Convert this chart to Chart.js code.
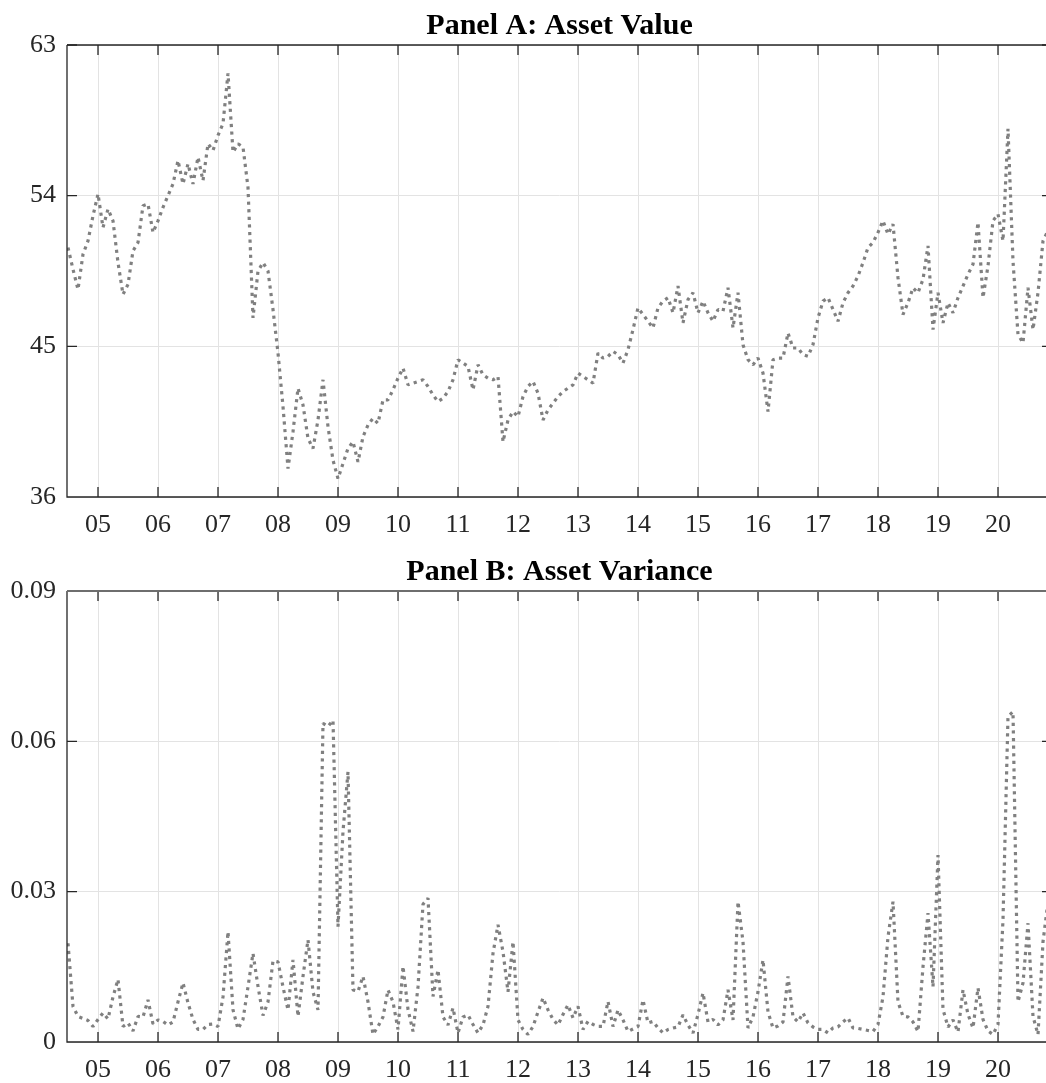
<!DOCTYPE html>
<html>
<head>
<meta charset="utf-8">
<title>Asset Value and Asset Variance</title>
<script src="https://cdn.jsdelivr.net/npm/chart.js@4.4.1/dist/chart.umd.min.js"></script>
<style>
  html, body { margin: 0; padding: 0; background: #fff; overflow: hidden; width: 1046px; height: 1083px; }
  canvas { position: absolute; left: 0; }
  #assetValueChart { top: 0; }
  #assetVarianceChart { top: 545px; }
</style>
</head>
<body>
<canvas id="assetValueChart" width="1052" height="545"></canvas>
<canvas id="assetVarianceChart" width="1052" height="538"></canvas>
<script>
// monthly observations, first one July 2004
const startYear = 2004.5;
const yearTicks = [2005, 2006, 2007, 2008, 2009, 2010, 2011, 2012, 2013, 2014, 2015, 2016, 2017, 2018, 2019, 2020];
const yearLabels = ['05', '06', '07', '08', '09', '10', '11', '12', '13', '14', '15', '16', '17', '18', '19', '20'];
const valueTicks = [36, 45, 54, 63];
const valueLabels = ['36', '45', '54', '63'];
const varianceTicks = [0, 0.03, 0.06, 0.09];
const varianceLabels = ['0', '0.03', '0.06', '0.09'];

const assetValue = [
  50.9, 49.6, 48.4, 50.5, 51.3, 52.8, 54.1, 52.1, 53.2, 52.5, 50.0, 48.1,
  48.7, 50.7, 51.2, 53.4, 53.5, 51.8, 52.5, 53.3, 54.0, 54.7, 56.1, 54.7,
  55.9, 54.7, 56.3, 54.9, 57.1, 56.7, 57.6, 58.3, 61.3, 56.6, 57.1, 56.9,
  54.5, 46.7, 49.5, 50.0, 49.5, 47.2, 44.6, 41.4, 37.7, 39.9, 42.5, 41.5,
  39.5, 38.9, 40.6, 43.0, 40.2, 38.2, 37.1, 38.0, 38.9, 39.3, 38.1, 39.6,
  40.3, 40.7, 40.4, 41.8, 41.8, 42.4, 43.1, 43.7, 42.7, 42.8, 42.9, 43.0,
  42.6, 42.1, 41.7, 41.9, 42.3, 43.0, 44.2, 44.0, 43.8, 42.4, 43.9, 43.3,
  43.1, 43.0, 43.2, 39.3, 40.6, 41.1, 40.8, 42.0, 42.6, 42.9, 42.2, 40.6,
  41.2, 41.6, 42.0, 42.3, 42.5, 42.7, 43.4, 43.2, 43.0, 42.8, 44.6, 44.3,
  44.4, 44.7, 44.5, 44.0, 44.8, 46.0, 47.3, 46.9, 46.5, 46.1, 47.3, 47.7,
  47.9, 47.0, 48.6, 46.4, 47.8, 48.2, 47.0, 47.7, 47.0, 46.5, 47.2, 47.1,
  48.5, 46.1, 48.2, 45.1, 44.2, 43.9, 44.3, 43.4, 41.1, 44.2, 44.3, 44.3,
  45.8, 44.9, 44.9, 44.5, 44.4, 45.1, 46.7, 47.7, 47.9, 47.2, 46.5, 47.6,
  48.2, 48.6, 49.2, 50.0, 50.9, 51.2, 51.8, 52.5, 51.7, 52.3, 49.1, 46.9,
  47.6, 48.5, 48.2, 49.0, 51.0, 46.0, 48.2, 46.4, 47.6, 47.0, 47.9, 48.6,
  49.3, 49.9, 52.4, 47.9, 49.8, 52.5, 52.9, 51.3, 58.0, 50.1, 45.7, 45.2,
  48.5, 46.0, 48.2, 51.3, 51.9
];

const assetVariance = [
  0.0197, 0.0071, 0.0051, 0.0047, 0.0043, 0.0031, 0.0045, 0.0058, 0.0046, 0.0090, 0.0125, 0.0031,
  0.0038, 0.0022, 0.0051, 0.0050, 0.0084, 0.0036, 0.0044, 0.0041, 0.0034, 0.0040, 0.0080, 0.0118,
  0.0078, 0.0045, 0.0025, 0.0025, 0.0035, 0.0036, 0.0031, 0.0090, 0.0220, 0.0064, 0.0026, 0.0045,
  0.0110, 0.0177, 0.0111, 0.0053, 0.0080, 0.0162, 0.0160, 0.0110, 0.0064, 0.0164, 0.0051, 0.0131,
  0.0204, 0.0100, 0.0064, 0.0636, 0.0630, 0.0642, 0.0230, 0.0420, 0.0539, 0.0104, 0.0101, 0.0131,
  0.0080, 0.0015, 0.0031, 0.0050, 0.0104, 0.0080, 0.0025, 0.0151, 0.0065, 0.0021, 0.0110, 0.0275,
  0.0287, 0.0091, 0.0144, 0.0050, 0.0034, 0.0068, 0.0018, 0.0050, 0.0054, 0.0035, 0.0018, 0.0034,
  0.0071, 0.0177, 0.0234, 0.0180, 0.0100, 0.0200, 0.0044, 0.0025, 0.0015, 0.0031, 0.0060, 0.0088,
  0.0064, 0.0045, 0.0034, 0.0055, 0.0074, 0.0048, 0.0071, 0.0025, 0.0041, 0.0035, 0.0031, 0.0031,
  0.0081, 0.0031, 0.0064, 0.0044, 0.0021, 0.0026, 0.0031, 0.0084, 0.0038, 0.0041, 0.0028, 0.0018,
  0.0025, 0.0028, 0.0030, 0.0054, 0.0034, 0.0018, 0.0055, 0.0098, 0.0040, 0.0045, 0.0034, 0.0044,
  0.0104, 0.0044, 0.0280, 0.0200, 0.0028, 0.0050, 0.0100, 0.0164, 0.0060, 0.0028, 0.0032, 0.0040,
  0.0131, 0.0050, 0.0040, 0.0058, 0.0038, 0.0030, 0.0025, 0.0025, 0.0018, 0.0028, 0.0030, 0.0040,
  0.0048, 0.0028, 0.0027, 0.0025, 0.0023, 0.0021, 0.0035, 0.0090, 0.0210, 0.0280, 0.0080, 0.0051,
  0.0050, 0.0040, 0.0021, 0.0150, 0.0257, 0.0110, 0.0373, 0.0065, 0.0030, 0.0044, 0.0020, 0.0104,
  0.0055, 0.0028, 0.0108, 0.0045, 0.0022, 0.0015, 0.0035, 0.0244, 0.0650, 0.0659, 0.0080, 0.0118,
  0.0237, 0.0051, 0.0015, 0.0200, 0.0280
];

const months = assetValue.map((_, i) => startYear + i / 12);

// tick marks drawn inside the frame, like the original figure
const insideTicks = {
  id: 'insideTicks',
  afterDraw(chart, args, opts) {
    const { ctx, chartArea: a, scales: { x, y } } = chart;
    const len = 10;
    ctx.save();
    ctx.strokeStyle = '#262626';
    ctx.lineWidth = 1.3;
    ctx.beginPath();
    x.ticks.forEach(t => {
      const px = x.getPixelForValue(t.value);
      ctx.moveTo(px, a.bottom); ctx.lineTo(px, a.bottom - len);
      ctx.moveTo(px, a.top); ctx.lineTo(px, a.top + len);
    });
    y.ticks.forEach(t => {
      const py = y.getPixelForValue(t.value);
      ctx.moveTo(a.left, py); ctx.lineTo(a.left + len, py);
      ctx.moveTo(a.right, py); ctx.lineTo(a.right - len, py);
    });
    ctx.moveTo(a.left, a.top);
    ctx.lineTo(a.left, a.bottom);
    ctx.lineTo(a.right, a.bottom);
    ctx.stroke();
    ctx.strokeStyle = opts.topColor || '#262626';
    ctx.lineWidth = opts.topWidth || 1.3;
    ctx.beginPath();
    ctx.moveTo(a.left, a.top);
    ctx.lineTo(a.right, a.top);
    ctx.stroke();
    ctx.restore();
  }
};

function makePanel(canvasId, title, values, ticks, labels, titlePad, axisHeight, topLine) {
  const ctx = document.getElementById(canvasId).getContext('2d');
  return new Chart(ctx, {
    type: 'line',
    data: {
      datasets: [{
        data: values.map((v, i) => ({ x: months[i], y: v })),
        borderColor: 'rgb(128,128,128)',
        borderWidth: 3.2,
        borderDash: [3.2, 4.4],
        borderJoinStyle: 'bevel',
        pointRadius: 0,
        tension: 0,
        fill: false
      }]
    },
    options: {
      responsive: false,
      animation: false,
      layout: { padding: 0 },
      plugins: {
        legend: { display: false },
        tooltip: { enabled: false },
        title: {
          display: true,
          text: title,
          fullSize: false,
          color: '#000',
          font: { family: 'Liberation Serif', size: 30, weight: 'bold' },
          padding: titlePad
        },
        insideTicks: topLine
      },
      scales: {
        x: {
          type: 'linear',
          min: 2004.4833,
          max: 2020.9,
          afterBuildTicks: s => { s.ticks = yearTicks.map(v => ({ value: v })); },
          afterFit: s => { s.height = axisHeight; },
          ticks: {
            callback: (v, i) => yearLabels[i],
            color: '#262626',
            padding: 13,
            maxRotation: 0,
            font: { family: 'Liberation Serif', size: 26 }
          },
          grid: { color: '#e3e3e3', lineWidth: 1, drawTicks: false },
          border: { display: false }
        },
        y: {
          min: ticks[0],
          max: ticks[ticks.length - 1],
          afterBuildTicks: s => { s.ticks = ticks.map(v => ({ value: v })); },
          afterFit: s => { s.width = 67; },
          ticks: {
            callback: (v, i) => labels[i],
            color: '#262626',
            padding: 11,
            font: { family: 'Liberation Serif', size: 26 }
          },
          grid: { color: '#e3e3e3', lineWidth: 1, drawTicks: false },
          border: { display: false }
        }
      }
    },
    plugins: [insideTicks]
  });
}

makePanel('assetValueChart', 'Panel A: Asset Value', assetValue, valueTicks, valueLabels,
  { top: 8, bottom: 1.0 }, 48, { topColor: '#262626', topWidth: 1.3 });
makePanel('assetVarianceChart', 'Panel B: Asset Variance', assetVariance, varianceTicks, varianceLabels,
  { top: 9, bottom: 1.0 }, 41, { topColor: '#6e6e6e', topWidth: 2.2 });
</script>
</body>
</html>
